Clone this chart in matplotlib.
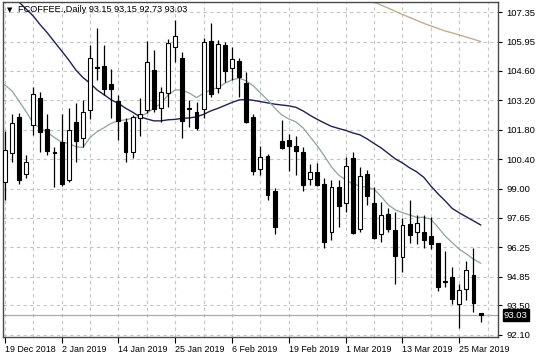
import matplotlib
matplotlib.use("Agg")
import numpy as np
import matplotlib.pyplot as plt
import matplotlib.transforms as mtransforms

# daily candles, 19 Dec 2018 .. 28 Mar 2019
opens = [99.35, 100.69, 102.42, 99.70, 102.03, 103.29, 101.84, 100.75, 101.24, 99.40,
         102.16, 101.43, 102.74, 104.78, 104.83, 103.95, 103.16, 102.16, 100.77, 102.35,
         102.74, 104.63, 102.85, 103.53, 105.73, 105.18, 102.84, 102.63, 102.79, 106.00,
         103.76, 105.81, 104.71, 105.05, 104.00, 102.42, 99.95, 100.56, 98.88, 101.29,
         101.32, 101.05, 100.75, 99.48, 99.82, 99.22, 96.98, 99.08, 98.33, 100.45,
         97.10, 99.71, 98.33, 96.88, 97.82, 97.06, 95.80, 97.35, 96.98, 96.98,
         96.78, 96.44, 94.64, 94.84, 93.57, 94.26, 94.94, 93.15]
highs = [101.75, 102.55, 102.58, 100.61, 103.84, 103.57, 102.55, 101.00, 102.53, 102.82,
         103.05, 103.21, 105.81, 106.63, 105.81, 104.68, 103.45, 102.35, 102.50, 103.29,
         106.00, 105.57, 103.84, 106.10, 106.99, 105.47, 103.21, 103.10, 106.13, 106.84,
         106.05, 105.94, 105.70, 105.18, 104.52, 102.53, 101.05, 100.64, 99.04, 102.27,
         101.60, 101.51, 101.00, 100.16, 100.23, 99.50, 99.43, 99.43, 100.53, 100.77,
         100.03, 99.90, 99.08, 98.40, 98.09, 97.93, 97.62, 98.48, 97.77, 97.77,
         97.66, 96.46, 96.09, 95.30, 94.51, 95.61, 96.21, 93.15]
lows = [98.48, 100.29, 99.22, 99.51, 101.56, 100.74, 100.61, 99.11, 99.16, 99.35,
        100.29, 101.00, 102.31, 104.16, 103.45, 102.35, 101.32, 100.27, 100.48, 101.52,
        102.58, 102.66, 102.18, 102.89, 105.02, 101.40, 101.95, 101.79, 102.35, 103.37,
        103.53, 104.08, 104.16, 103.37, 102.11, 99.66, 99.66, 98.48, 96.88, 100.89,
        99.85, 99.66, 98.88, 99.19, 99.14, 96.20, 96.59, 97.22, 97.93, 96.88,
        96.98, 98.25, 96.62, 96.51, 96.98, 94.51, 95.05, 96.44, 96.40, 96.20,
        96.15, 94.19, 94.38, 93.57, 92.42, 93.75, 93.20, 92.73]
closes = [100.85, 102.11, 99.43, 100.29, 103.48, 101.68, 100.80, 100.70, 99.22, 101.79,
          101.27, 102.66, 105.18, 104.74, 103.73, 103.73, 102.22, 100.74, 102.42, 102.55,
          105.02, 102.79, 103.57, 105.89, 106.25, 102.22, 102.80, 101.87, 105.97, 103.48,
          105.84, 104.58, 105.15, 104.31, 102.18, 99.85, 100.53, 98.72, 97.22, 100.94,
          101.04, 100.81, 99.18, 99.79, 99.19, 96.51, 99.11, 98.20, 100.09, 96.94,
          99.62, 98.67, 96.67, 97.77, 97.10, 95.84, 97.30, 96.83, 97.38, 96.59,
          96.40, 94.36, 94.60, 93.79, 94.21, 95.16, 93.61, 93.03]

# moving averages as drawn on the chart
ma_fast = [103.92, 103.64, 103.16, 102.66, 102.11, 101.87, 101.68, 101.43, 101.21, 101.16,
           101.00, 100.96, 101.43, 101.71, 101.90, 102.11, 102.22, 102.27, 102.35, 102.42,
           102.58, 102.82, 103.05, 103.45, 103.68, 103.68, 103.53, 103.32, 103.53, 103.68,
           103.79, 104.00, 104.16, 104.24, 104.11, 103.87, 103.54, 103.21, 102.83, 102.50,
           102.31, 102.17, 101.89, 101.46, 101.04, 100.56, 100.04, 99.66, 99.43, 99.24,
           99.14, 99.08, 98.99, 98.64, 98.25, 98.01, 97.88, 97.77, 97.66, 97.66,
           97.57, 97.19, 96.78, 96.46, 96.15, 95.93, 95.68, 95.49]
ma_mid = [108.65, 108.27, 107.84, 107.51, 107.18, 106.76, 106.38, 105.95, 105.53, 105.10,
          104.63, 104.27, 104.00, 103.68, 103.45, 103.21, 103.05, 102.82, 102.63, 102.42,
          102.31, 102.22, 102.22, 102.27, 102.29, 102.34, 102.36, 102.41, 102.53, 102.69,
          102.81, 102.95, 103.09, 103.21, 103.23, 103.19, 103.13, 103.07, 103.01, 102.97,
          102.93, 102.86, 102.69, 102.48, 102.29, 102.12, 101.96, 101.86, 101.77, 101.65,
          101.56, 101.37, 101.15, 100.94, 100.68, 100.42, 100.23, 100.00, 99.81, 99.55,
          99.14, 98.77, 98.44, 98.08, 97.87, 97.68, 97.49, 97.30]
ma_slow = [np.nan] * 51 + [107.99, 107.84, 107.69, 107.55, 107.40, 107.25, 107.11, 106.97,
                           106.83, 106.71, 106.59, 106.47, 106.38, 106.28, 106.18, 106.08, 105.97]

date_labels = ["19 Dec 2018", "2 Jan 2019", "14 Jan 2019", "25 Jan 2019", "6 Feb 2019",
               "19 Feb 2019", "1 Mar 2019", "13 Mar 2019", "25 Mar 2019"]
price_ticks = [92.10, 93.50, 94.85, 96.25, 97.65, 99.00, 100.40, 101.80, 103.20,
               104.60, 105.95, 107.35]

font = "Liberation Sans"
plt.rcParams["font.family"] = [font, "DejaVu Sans"]

fig = plt.figure(figsize=(5.36, 3.58), dpi=100)
ax = fig.add_axes([3 / 536, 1 - 337 / 358, 495 / 536, 335 / 358])

x = np.arange(len(opens))
o = np.array(opens)
c = np.array(closes)

# grid: labels every 8 bars, grid lines every 4
ax.set_xticks(np.arange(0, len(x), 8))
ax.set_xticklabels(date_labels, fontsize=6.4, ha="left")
ax.set_xticks(np.arange(4, len(x) + 2, 8), minor=True)
ax.set_yticks(price_ticks)
ax.set_yticklabels([f"{v:.2f}" for v in price_ticks], fontsize=6.8)
ax.grid(True, which="both", color="#c4c4c4", linestyle=(0, (3, 3)), linewidth=0.8)
ax.set_axisbelow(True)

# moving averages
ax.plot(x, ma_slow, color="#c9ab88", lw=1.0, zorder=2)
ax.plot(x, ma_mid, color="#1f1f5c", lw=1.0, zorder=2)
ax.plot(x, ma_fast, color="#86a89b", lw=0.9, zorder=2)

# candles
ax.vlines(x, lows, highs, color="black", lw=0.9, zorder=3)
up = c >= o
body = np.maximum(np.abs(c - o), 0.02)
ax.bar(x, body, bottom=np.minimum(o, c), width=0.55,
       color=np.where(up, "white", "black"), edgecolor="black", lw=0.8, zorder=4)

# last price line and marker
ax.axhline(closes[-1], color="#ababab", lw=0.9, zorder=1)
trans = mtransforms.blended_transform_factory(ax.transAxes, ax.transData)
ax.text(1.012, closes[-1], f"{closes[-1]:.2f}", transform=trans, color="white",
        fontsize=6.8, va="center", ha="left",
        bbox=dict(boxstyle="square,pad=0.15", fc="black", ec="black"))

ax.set_xlim(-0.25, 69.45)
ax.set_ylim(92.0, 107.84)

ax.yaxis.tick_right()
ax.tick_params(axis="y", which="major", length=3, width=0.8, pad=3, colors="black")
ax.tick_params(axis="x", which="major", length=4, width=0.8, pad=2, colors="black")
ax.tick_params(axis="x", which="minor", length=0)
for s in ax.spines.values():
    s.set_color("#4a4a4a")
    s.set_linewidth(1.0)

fig.text(7 / 536, 1 - 10 / 358, "\u25bc", fontsize=5, va="center", family="DejaVu Sans")
fig.text(18 / 536, 1 - 10 / 358,
         f"FCOFFEE.,Daily {opens[-1]:.2f} {highs[-1]:.2f} {lows[-1]:.2f} {closes[-1]:.2f}",
         fontsize=6.6, va="center")

fig.savefig("out.png", dpi=100)
